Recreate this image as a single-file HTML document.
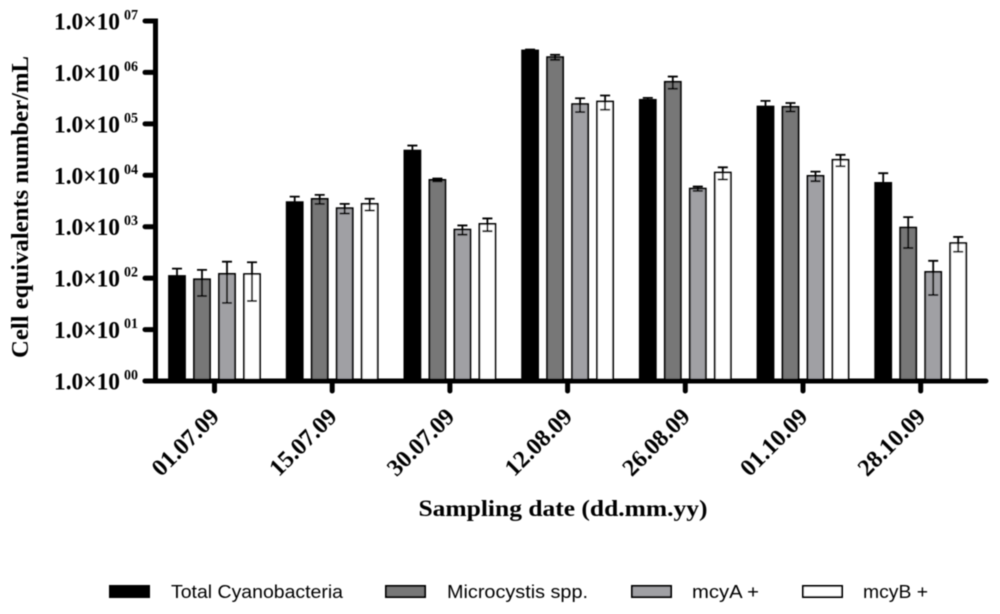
<!DOCTYPE html>
<html lang="en">
<head>
<meta charset="utf-8">
<title>Cell equivalents number per mL by sampling date</title>
<style>
html,body{margin:0;padding:0;background:#fff;}
body{width:1000px;height:614px;overflow:hidden;}
svg{display:block;}
.serif{font-family:"Liberation Serif",serif;font-weight:bold;fill:#000;}
.sans{font-family:"Liberation Sans",sans-serif;fill:#000;}
</style>
</head>
<body>
<svg id="chart" width="1000" height="614" viewBox="0 0 1000 614" xmlns="http://www.w3.org/2000/svg">
<defs><filter id="soft" x="-2%" y="-2%" width="104%" height="104%"><feGaussianBlur stdDeviation="0.45"/></filter></defs>
<g id="plot" filter="url(#soft)"></g>
</svg>
<script>
const categories = ['01.07.09', '15.07.09', '30.07.09', '12.08.09', '26.08.09', '01.10.09', '28.10.09'];
const seriesNames = ['Total Cyanobacteria', 'Microcystis spp.', 'mcyA +', 'mcyB +'];
const totalCyanobacteria = [110, 3000, 30200, 2670000, 293000, 217000, 7110];
const totalCyanobacteriaErr = [43, 850, 7600, 120000, 27000, 63000, 3860];
const microcystis = [95, 3470, 8130, 1980000, 656000, 214000, 961];
const microcystisErr = [50, 690, 500, 220000, 175000, 40000, 575];
const mcyA = [121, 2290, 879, 242000, 5510, 9730, 132];
const mcyAErr = [88, 490, 180, 73000, 530, 2050, 85];
const mcyB = [120, 2780, 1133, 272000, 11300, 20000, 479];
const mcyBErr = [84, 720, 315, 84000, 3000, 5000, 153];
const yTickExponents = [0, 1, 2, 3, 4, 5, 6, 7];
const yTickMantissa = '1.0×10';
const yTickSuperscripts = ['00', '01', '02', '03', '04', '05', '06', '07'];

const NS = 'http://www.w3.org/2000/svg';
const plot = document.getElementById('plot');
function make(tag, attrs, text) {
  const el = document.createElementNS(NS, tag);
  for (const k in attrs) el.setAttribute(k, attrs[k]);
  if (text !== undefined) el.textContent = text;
  return el;
}
function yScale(v) { return 381 - (Math.log10(Math.max(v, 1))) * 51.43; }
function xScale(i) { return 214.5 + i * 117.7; }
const barOffsets = [-37.5, -12.5, 12.5, 37.5];
const fills = ['#000000', '#777777', '#a0a0a4', '#ffffff'];
const seriesValues = [totalCyanobacteria, microcystis, mcyA, mcyB];
const seriesErrors = [totalCyanobacteriaErr, microcystisErr, mcyAErr, mcyBErr];

// bars and error bars
seriesValues.forEach(function (vals, s) {
  const errs = seriesErrors[s];
  vals.forEach(function (v, i) {
    const cx = xScale(i) + barOffsets[s];
    const top = yScale(v);
    const bar = make('rect', {x: cx - 8, y: top, width: 16, height: 381 - top, fill: fills[s], stroke: '#000', 'stroke-width': 1.8});
    
    
    plot.appendChild(bar);
    const yHi = yScale(v + errs[i]);
    const yLo = yScale(Math.max(v - errs[i], 1));
    const err = make('path', {d: 'M' + (cx - 5) + ' ' + yHi + 'H' + (cx + 5) + 'M' + cx + ' ' + yHi + 'V' + yLo + 'M' + (cx - 5) + ' ' + yLo + 'H' + (cx + 5), fill: 'none', stroke: '#000', 'stroke-width': 1.8});
    
    
    plot.appendChild(err);
  });
});

// axes
const yAxis = make('line', {x1: 155.5, x2: 155.5, y1: yScale(1e7) - 2.5, y2: 383.5, stroke: '#000', 'stroke-width': 5});


plot.appendChild(yAxis);
const xAxis = make('line', {x1: 145, x2: 986, y1: 381, y2: 381, stroke: '#000', 'stroke-width': 5, 'stroke-linecap': 'round'});


plot.appendChild(xAxis);

yTickExponents.forEach(function (e, i) {
  const y = yScale(Math.pow(10, e));
  const tick = make('line', {x1: 145, x2: 155, y1: y, y2: y, stroke: '#000', 'stroke-width': 5, 'stroke-linecap': 'round'});
  
  
  plot.appendChild(tick);
  const label = make('text', {x: 54, y: y + 8.5, 'class': 'serif', 'font-size': 24.5, textLength: 66, lengthAdjust: 'spacingAndGlyphs'}, yTickMantissa);
  
  
  plot.appendChild(label);
  const sup = make('text', {x: 124, y: y - 1.5, 'class': 'serif', 'font-size': 14.5, textLength: 14, lengthAdjust: 'spacingAndGlyphs'}, yTickSuperscripts[i]);
  
  
  plot.appendChild(sup);
});

categories.forEach(function (c, i) {
  const x = xScale(i);
  const tick = make('line', {x1: x, x2: x, y1: 381, y2: 391, stroke: '#000', 'stroke-width': 5, 'stroke-linecap': 'round'});
  
  
  plot.appendChild(tick);
  const lx = x + 6, ly = 418;
  const label = make('text', {x: lx, y: ly, 'class': 'serif', 'font-size': 24, 'text-anchor': 'end', textLength: 84, lengthAdjust: 'spacingAndGlyphs', transform: 'rotate(-45 ' + lx + ' ' + ly + ')'}, c);
  
  
  plot.appendChild(label);
});

// titles
const xTitle = make('text', {x: 563, y: 516, 'class': 'serif', 'font-size': 23.5, 'text-anchor': 'middle', textLength: 289, lengthAdjust: 'spacingAndGlyphs'}, 'Sampling date (dd.mm.yy)');


plot.appendChild(xTitle);
const yTitle = make('text', {x: 28, y: 207, 'class': 'serif', 'font-size': 24, 'text-anchor': 'middle', textLength: 302, lengthAdjust: 'spacingAndGlyphs', transform: 'rotate(-90 28 207)'}, 'Cell equivalents number/mL');


plot.appendChild(yTitle);

// legend
const legendSwatchX = [110, 386, 632, 803];
const legendTextX = [171, 447, 692, 863];
const legendTextW = [172, 141, 67, 65];
seriesNames.forEach(function (n, s) {
  const sw = make('rect', {x: legendSwatchX[s], y: 586, width: 39, height: 11, fill: fills[s], stroke: '#000', 'stroke-width': 2});
  
  
  plot.appendChild(sw);
  const t = make('text', {x: legendTextX[s], y: 598, 'class': 'sans', 'font-size': 18, textLength: legendTextW[s], lengthAdjust: 'spacingAndGlyphs'}, n);
  
  
  plot.appendChild(t);
});
</script>
</body>
</html>
